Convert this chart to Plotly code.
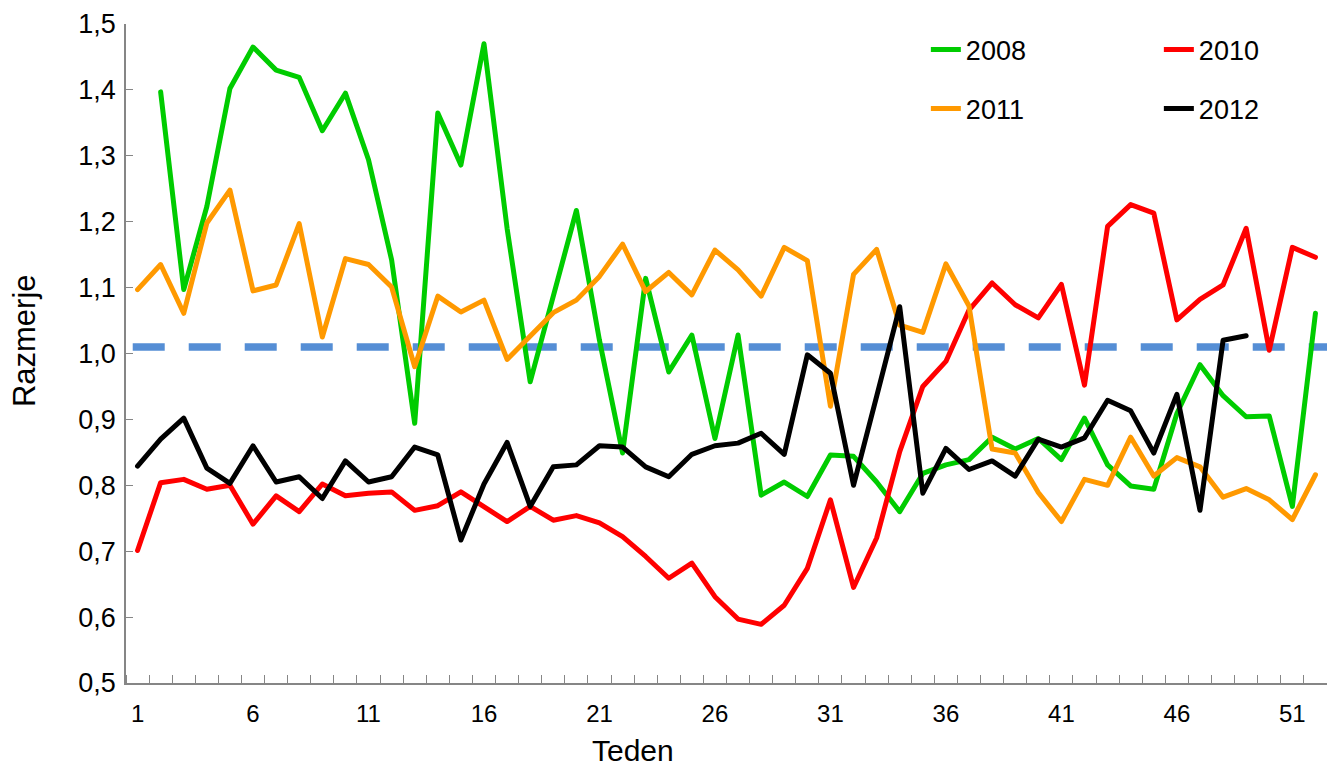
import plotly.graph_objects as go

weeks = list(range(1, 53))

y2008 = [None, 1.397, 1.097, 1.223, 1.402, 1.465, 1.430, 1.419, 1.338, 1.395,
         1.294, 1.142, 0.894, 1.365, 1.286, 1.470, 1.190, 0.957, 1.090, 1.217,
         1.020, 0.849, 1.114, 0.972, 1.028, 0.871, 1.028, 0.785, 0.805, 0.783,
         0.846, 0.844, 0.805, 0.760, 0.818, 0.831, 0.839, 0.873, 0.855, 0.871,
         0.839, 0.902, 0.831, 0.799, 0.794, 0.909, 0.983, 0.936, 0.904, 0.905,
         0.768, 1.061]

y2010 = [0.701, 0.804, 0.809, 0.794, 0.800, 0.741, 0.784, 0.760, 0.802, 0.784,
         0.788, 0.790, 0.762, 0.769, 0.790, 0.767, 0.745, 0.768, 0.747, 0.754,
         0.743, 0.722, 0.692, 0.659, 0.682, 0.631, 0.597, 0.589, 0.618, 0.674,
         0.778, 0.645, 0.720, 0.851, 0.950, 0.988, 1.066, 1.107, 1.074, 1.054,
         1.105, 0.952, 1.193, 1.226, 1.213, 1.051, 1.082, 1.104, 1.190, 1.005,
         1.161, 1.146]

y2011 = [1.097, 1.135, 1.061, 1.198, 1.248, 1.095, 1.104, 1.197, 1.025, 1.144,
         1.135, 1.101, 0.980, 1.087, 1.063, 1.081, 0.991, 1.027, 1.062, 1.081,
         1.117, 1.166, 1.094, 1.123, 1.089, 1.157, 1.127, 1.087, 1.161, 1.141,
         0.920, 1.120, 1.158, 1.043, 1.032, 1.136, 1.072, 0.855, 0.849, 0.789,
         0.745, 0.809, 0.800, 0.873, 0.814, 0.842, 0.828, 0.782, 0.795, 0.778,
         0.748, 0.816]

y2012 = [0.829, 0.870, 0.902, 0.826, 0.803, 0.860, 0.805, 0.813, 0.780, 0.837,
         0.805, 0.813, 0.858, 0.846, 0.717, 0.802, 0.865, 0.768, 0.828, 0.831,
         0.860, 0.858, 0.828, 0.813, 0.847, 0.860, 0.864, 0.879, 0.847, 0.998,
         0.970, 0.800, 0.935, 1.071, 0.788, 0.856, 0.824, 0.837, 0.814, 0.870,
         0.858, 0.872, 0.929, 0.913, 0.849, 0.938, 0.762, 1.020, 1.027, None,
         None, None]

ref_level = 1.01

x_tickvals = [1, 6, 11, 16, 21, 26, 31, 36, 41, 46, 51]
y_tickvals = [0.5, 0.6, 0.7, 0.8, 0.9, 1.0, 1.1, 1.2, 1.3, 1.4, 1.5]

x_title = "Teden"
y_title = "Razmerje"

series = [
    ("2008", y2008, "#00cc00"),
    ("2010", y2010, "#ff0000"),
    ("2011", y2011, "#ff9900"),
    ("2012", y2012, "#000000"),
]
legend_ids = ["legend", "legend2", "legend3", "legend4"]
legend_pos = [(0.666, 0.9605), (0.860, 0.9605), (0.666, 0.871), (0.860, 0.871)]

FONT = "Liberation Sans, Arial, sans-serif"
AXIS_GRAY = "#868686"

fig = go.Figure()
for (name, vals, color), leg in zip(series, legend_ids):
    fig.add_trace(go.Scatter(
        x=weeks, y=vals, name=name, mode="lines",
        line=dict(color=color, width=5),
        connectgaps=False, legend=leg,
    ))

fig.add_shape(type="line", xref="x domain", yref="y",
              x0=0.0056, x1=1.0, y0=ref_level, y1=ref_level,
              line=dict(color="#558ed5", width=7.5, dash="32px,24px"),
              layer="below")

legend_layout = {}
for leg, (lx, ly) in zip(legend_ids, legend_pos):
    legend_layout[leg] = dict(
        x=lx, y=ly, xanchor="left", yanchor="middle", orientation="h",
        font=dict(family=FONT, size=27, color="#000000"),
        bgcolor="rgba(0,0,0,0)", borderwidth=0,
        itemclick=False, itemdoubleclick=False,
    )

fig.add_annotation(text=x_title, xref="paper", yref="paper",
                   x=0.422, y=-0.103, xanchor="center", yanchor="middle",
                   showarrow=False,
                   font=dict(family=FONT, size=30, color="#000000"))
fig.add_annotation(text=y_title, xref="paper", yref="paper",
                   x=-0.084, y=0.519, xanchor="center", yanchor="middle",
                   textangle=-90, showarrow=False,
                   font=dict(family=FONT, size=31, color="#000000"))

fig.update_layout(
    width=1327, height=768,
    margin=dict(l=126, r=0, t=24, b=85),
    paper_bgcolor="white", plot_bgcolor="white",
    separators=", ",
    font=dict(family=FONT, size=24, color="#000000"),
    showlegend=True,
    **legend_layout,
    xaxis=dict(
        range=[0.5, 52.5], tickmode="array", tickvals=x_tickvals,
        ticks="", showgrid=False, zeroline=False, automargin=False,
        showline=True, linecolor=AXIS_GRAY, linewidth=1.5,
        tickfont=dict(family=FONT, size=24, color="#000000"),
        ticklabelstandoff=8,
        minor=dict(tickmode="linear", tick0=0.5, dtick=1, ticks="inside",
                   ticklen=8, tickcolor=AXIS_GRAY, tickwidth=1, showgrid=False),
    ),
    yaxis=dict(
        range=[0.5, 1.5], tickmode="array", tickvals=y_tickvals,
        tickformat=".1f", ticks="inside", ticklen=7, tickcolor=AXIS_GRAY,
        tickwidth=1, showgrid=False, zeroline=False, automargin=False,
        showline=True, linecolor=AXIS_GRAY, linewidth=1.5,
        tickfont=dict(family=FONT, size=27, color="#000000"),
        ticklabelstandoff=3,
    ),
)

post = """
document.body.style.margin='0';
document.body.style.padding='0';
document.documentElement.style.margin='0';
document.querySelectorAll('.scatterlayer path.js-line').forEach(function(p){
  p.style.strokeLinejoin='round'; p.style.strokeLinecap='round';
});
"""

fig.write_html("out.html", post_script=post, config={"displayModeBar": False})
